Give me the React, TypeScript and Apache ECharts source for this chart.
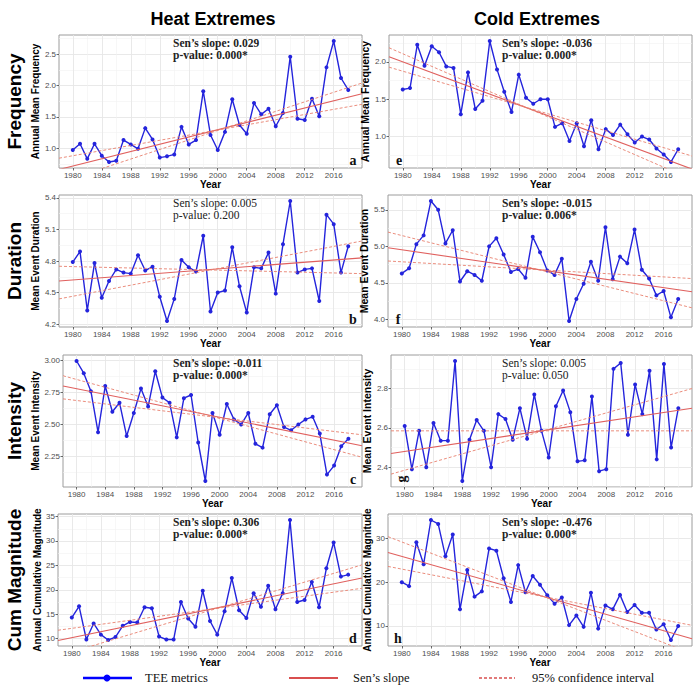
import React, { useEffect, useRef } from "react";
import * as echarts from "echarts";

// ---------- data ----------
const years = [
  1980, 1981, 1982, 1983, 1984, 1985, 1986, 1987, 1988, 1989,
  1990, 1991, 1992, 1993, 1994, 1995, 1996, 1997, 1998, 1999,
  2000, 2001, 2002, 2003, 2004, 2005, 2006, 2007, 2008, 2009,
  2010, 2011, 2012, 2013, 2014, 2015, 2016, 2017, 2018,
];
const xTickYears = [1980, 1984, 1988, 1992, 1996, 2000, 2004, 2008, 2012, 2016];
const xMinorYears = [1982, 1986, 1990, 1994, 1998, 2002, 2006, 2010, 2014, 2018];

const heatFrequency = [0.97, 1.07, 0.83, 1.07, 0.88, 0.78, 0.8, 1.13, 1.06, 0.99, 1.32, 1.14, 0.85, 0.87, 0.9, 1.34, 1.06, 1.13, 1.91, 1.21, 0.97, 1.26, 1.78, 1.37, 1.23, 1.72, 1.54, 1.63, 1.35, 1.56, 2.46, 1.47, 1.45, 1.79, 1.51, 2.29, 2.71, 2.12, 1.93];
const heatDuration = [4.79, 4.89, 4.33, 4.78, 4.45, 4.61, 4.72, 4.69, 4.68, 4.855, 4.71, 4.745, 4.46, 4.23, 4.44, 4.81, 4.74, 4.7, 5.04, 4.32, 4.5, 4.52, 4.93, 4.56, 4.31, 4.74, 4.73, 4.88, 4.49, 4.96, 5.37, 4.69, 4.72, 4.73, 4.42, 5.24, 5.15, 4.69, 4.94];
const heatIntensity = [2.995, 2.9, 2.76, 2.44, 2.8, 2.6, 2.67, 2.41, 2.59, 2.78, 2.64, 2.915, 2.71, 2.67, 2.4, 2.705, 2.73, 2.36, 2.06, 2.59, 2.42, 2.66, 2.54, 2.5, 2.59, 2.35, 2.32, 2.58, 2.65, 2.48, 2.455, 2.5, 2.54, 2.56, 2.43, 2.11, 2.18, 2.33, 2.39];
const heatMagnitude = [14.3, 16.6, 9.8, 13.1, 10.8, 9.7, 10.3, 12.6, 13.4, 13.3, 16.4, 16.2, 10.4, 9.8, 9.8, 17.5, 14.1, 12.4, 19.8, 13.6, 10.8, 15.6, 22.4, 15.8, 14.2, 19.3, 16.5, 20.8, 16.0, 19.3, 34.3, 17.5, 17.9, 21.6, 16.4, 24.4, 29.7, 22.7, 23.1];
const coldFrequency = [1.63, 1.65, 2.23, 1.95, 2.21, 2.13, 1.94, 1.92, 1.3, 1.86, 1.37, 1.48, 2.28, 1.9, 1.6, 1.33, 1.83, 1.52, 1.44, 1.5, 1.5, 1.13, 1.18, 0.94, 1.18, 0.87, 1.22, 0.83, 1.1, 1.02, 1.16, 1.03, 0.92, 1.0, 0.96, 0.84, 0.76, 0.66, 0.83];
const coldDuration = [4.63, 4.7, 5.03, 5.15, 5.62, 5.5, 5.04, 5.22, 4.52, 4.66, 4.61, 4.53, 5.0, 5.11, 4.89, 4.65, 4.69, 4.57, 5.13, 4.92, 4.67, 4.61, 4.83, 3.98, 4.28, 4.49, 4.79, 4.53, 5.26, 4.55, 4.86, 4.77, 5.23, 4.68, 4.56, 4.33, 4.39, 4.03, 4.28];
const coldIntensity = [2.61, 2.39, 2.585, 2.4, 2.625, 2.535, 2.535, 2.94, 2.33, 2.54, 2.64, 2.585, 2.4, 2.67, 2.645, 2.54, 2.7, 2.545, 2.77, 2.585, 2.45, 2.71, 2.79, 2.68, 2.43, 2.435, 2.76, 2.38, 2.39, 2.9, 2.93, 2.565, 2.82, 2.67, 2.89, 2.44, 2.925, 2.5, 2.7];
const coldMagnitude = [20.0, 19.1, 29.1, 24.1, 34.2, 33.3, 25.9, 30.9, 13.8, 22.8, 16.7, 17.9, 27.7, 27.2, 20.9, 15.5, 23.9, 17.7, 21.4, 19.4, 17.0, 15.1, 16.5, 10.2, 12.4, 9.8, 17.6, 9.4, 14.7, 13.8, 17.1, 13.2, 14.8, 13.0, 13.0, 9.2, 10.4, 6.8, 10.0];

// trend lines: value at the left and right edge of each panel
const heatFrequencySen = [0.66, 1.87];
const heatFrequencyCiA = [0.84, 1.7];
const heatFrequencyCiB = [0.45, 2.04];
const heatDurationSen = [4.61, 4.83];
const heatDurationCiA = [4.75, 4.68];
const heatDurationCiB = [4.44, 4.99];
const heatIntensitySen = [2.8, 2.335];
const heatIntensityCiA = [2.88, 2.245];
const heatIntensityCiB = [2.7, 2.42];
const heatMagnitudeSen = [9.6, 22.4];
const heatMagnitudeCiA = [11.7, 20.3];
const heatMagnitudeCiB = [6.4, 25.1];
const coldFrequencySen = [2.07, 0.565];
const coldFrequencyCiA = [2.19, 0.425];
const coldFrequencyCiB = [1.93, 0.74];
const coldDurationSen = [4.98, 4.38];
const coldDurationCiA = [5.195, 4.16];
const coldDurationCiB = [4.8, 4.56];
const coldIntensitySen = [2.47, 2.7];
const coldIntensityCiA = [2.585, 2.585];
const coldIntensityCiB = [2.365, 2.8];
const coldMagnitudeSen = [26.8, 7.1];
const coldMagnitudeCiA = [30.4, 3.7];
const coldMagnitudeCiB = [23.6, 10.15];

const heatFrequencyTicks = [1.0, 1.5, 2.0, 2.5];
const heatDurationTicks = [4.2, 4.5, 4.8, 5.1, 5.4];
const heatIntensityTicks = [2.25, 2.5, 2.75, 3.0];
const heatMagnitudeTicks = [10, 15, 20, 25, 30, 35];
const coldFrequencyTicks = [1.0, 1.5, 2.0];
const coldDurationTicks = [4.0, 4.5, 5.0, 5.5];
const coldIntensityTicks = [2.4, 2.6, 2.8];
const coldMagnitudeTicks = [10, 20, 30];

const heatSlopes = ["0.029", "0.005", "-0.011", "0.306"];
const heatPValues = ["0.000*", "0.200", "0.000*", "0.000*"];
const coldSlopes = ["-0.036", "-0.015", "0.005", "-0.476"];
const coldPValues = ["0.000*", "0.006*", "0.050", "0.000*"];

const metricNames = ["Frequency", "Duration", "Intensity", "Cum Magnitude"];
const yAxisNames = ["Annual Mean Frequency", "Mean Event Duration", "Mean Event Intensity", "Annual Cumulative Magnitude"];
const panelLetters = ["a", "b", "c", "d", "e", "f", "g", "h"];
const columnTitles = ["Heat Extremes", "Cold Extremes"];
const legendLabels = ["TEE metrics", "Sen\u2019s slope", "95% confidence interval"];

// ---------- styling / layout ----------
const BLUE = "#2424dc";
const RED = "#e0605e";
const CI_RED = "#e8806e";
const SANS = '"Liberation Sans", Arial, sans-serif';
const SERIF = '"Liberation Serif", "Times New Roman", serif';

const layouts = [
  { left: 59, top: 35, right: 362, bottom: 168, gap: 13, col: 0, nameSize: 10 },
  { left: 59, top: 195, right: 362, bottom: 327, gap: 14, col: 0, nameSize: 10 },
  { left: 63, top: 355, right: 362, bottom: 487, gap: 18, col: 0, nameSize: 10 },
  { left: 58, top: 514, right: 362, bottom: 646, gap: 10, col: 0, nameSize: 10 },
  { left: 389, top: 35, right: 692, bottom: 168, gap: 13, col: 1, nameSize: 10.5 },
  { left: 388, top: 195, right: 692, bottom: 327, gap: 12, col: 1, nameSize: 10.5 },
  { left: 391, top: 355, right: 692, bottom: 487, gap: 14, col: 1, nameSize: 10.5 },
  { left: 388, top: 514, right: 692, bottom: 646, gap: 12, col: 1, nameSize: 10 },
];

const panels = [
  { values: heatFrequency, ticks: heatFrequencyTicks, dec: 1, sen: heatFrequencySen, ciA: heatFrequencyCiA, ciB: heatFrequencyCiB, name: yAxisNames[0], slope: heatSlopes[0], p: heatPValues[0] },
  { values: heatDuration, ticks: heatDurationTicks, dec: 1, sen: heatDurationSen, ciA: heatDurationCiA, ciB: heatDurationCiB, name: yAxisNames[1], slope: heatSlopes[1], p: heatPValues[1] },
  { values: heatIntensity, ticks: heatIntensityTicks, dec: 2, sen: heatIntensitySen, ciA: heatIntensityCiA, ciB: heatIntensityCiB, name: yAxisNames[2], slope: heatSlopes[2], p: heatPValues[2] },
  { values: heatMagnitude, ticks: heatMagnitudeTicks, dec: 0, sen: heatMagnitudeSen, ciA: heatMagnitudeCiA, ciB: heatMagnitudeCiB, name: yAxisNames[3], slope: heatSlopes[3], p: heatPValues[3] },
  { values: coldFrequency, ticks: coldFrequencyTicks, dec: 1, sen: coldFrequencySen, ciA: coldFrequencyCiA, ciB: coldFrequencyCiB, name: yAxisNames[0], slope: coldSlopes[0], p: coldPValues[0] },
  { values: coldDuration, ticks: coldDurationTicks, dec: 1, sen: coldDurationSen, ciA: coldDurationCiA, ciB: coldDurationCiB, name: yAxisNames[1], slope: coldSlopes[1], p: coldPValues[1] },
  { values: coldIntensity, ticks: coldIntensityTicks, dec: 1, sen: coldIntensitySen, ciA: coldIntensityCiA, ciB: coldIntensityCiB, name: yAxisNames[2], slope: coldSlopes[2], p: coldPValues[2] },
  { values: coldMagnitude, ticks: coldMagnitudeTicks, dec: 0, sen: coldMagnitudeSen, ciA: coldMagnitudeCiA, ciB: coldMagnitudeCiB, name: yAxisNames[3], slope: coldSlopes[3], p: coldPValues[3] },
];

const XMIN = years[0] - 0.05 * (years[years.length - 1] - years[0]);
const XMAX = years[years.length - 1] + 0.05 * (years[years.length - 1] - years[0]);

function buildOption() {
  const grid: any[] = [];
  const xAxis: any[] = [];
  const yAxis: any[] = [];
  const series: any[] = [];
  const graphic: any[] = [];

  panels.forEach((p, i) => {
    const L = layouts[i];
    const dmin = Math.min(...p.values);
    const dmax = Math.max(...p.values);
    const ymin = dmin - 0.05 * (dmax - dmin);
    const ymax = dmax + 0.05 * (dmax - dmin);
    const step = p.ticks[1] - p.ticks[0];
    const minorY = [p.ticks[0] - step / 2, ...p.ticks.map((t) => t + step / 2)].filter((v) => v > ymin && v < ymax);

    grid.push({
      left: L.left, top: L.top, width: L.right - L.left, height: L.bottom - L.top,
      show: true, borderColor: "#9c9c9c", borderWidth: 1, backgroundColor: "#ffffff",
      containLabel: false, outerBoundsMode: "none",
    });

    xAxis.push({
      type: "value", gridIndex: i, min: XMIN, max: XMAX, position: "bottom",
      name: "Year", nameLocation: "middle", nameGap: 11,
      nameTextStyle: { fontFamily: SANS, fontWeight: "bold", fontSize: 10, color: "#000" },
      axisLine: { show: false },
      axisTick: { show: true, length: 2.5, customValues: xTickYears, lineStyle: { color: "#444", width: 0.8 } },
      axisLabel: { customValues: xTickYears, formatter: (v: number) => String(v), fontFamily: SANS, fontSize: 8, color: "#4d4d4d", margin: 3 },
      splitLine: { show: true, lineStyle: { color: "#e6e6e6", width: 0.9 } },
    });
    xAxis.push({
      type: "value", gridIndex: i, min: XMIN, max: XMAX, position: "top",
      axisLine: { show: false },
      axisTick: { show: false, customValues: xMinorYears },
      axisLabel: { show: false, customValues: xMinorYears },
      splitLine: { show: true, lineStyle: { color: "#f2f2f2", width: 0.6 } },
    });

    yAxis.push({
      type: "value", gridIndex: i, min: ymin, max: ymax, position: "left",
      name: p.name, nameLocation: "middle", nameGap: L.gap,
      nameTextStyle: { fontFamily: SANS, fontWeight: "bold", fontSize: L.nameSize, color: "#000" },
      axisLine: { show: false },
      axisTick: { show: true, length: 2.5, customValues: p.ticks, lineStyle: { color: "#444", width: 0.8 } },
      axisLabel: { customValues: p.ticks, formatter: (v: number) => v.toFixed(p.dec), fontFamily: SANS, fontSize: 8, color: "#4d4d4d", margin: 3 },
      splitLine: { show: true, lineStyle: { color: "#e6e6e6", width: 0.9 } },
    });
    yAxis.push({
      type: "value", gridIndex: i, min: ymin, max: ymax, position: "right",
      axisLine: { show: false },
      axisTick: { show: false, customValues: minorY },
      axisLabel: { show: false, customValues: minorY },
      splitLine: { show: true, lineStyle: { color: "#f2f2f2", width: 0.6 } },
    });

    const xi = 2 * i;
    const trend = (vals: number[], color: string, dashed: boolean) => ({
      type: "line", xAxisIndex: xi, yAxisIndex: xi, silent: true, clip: true, z: 3,
      symbol: "none", data: [[XMIN, vals[0]], [XMAX, vals[1]]],
      lineStyle: { color, width: dashed ? 0.9 : 1.1, type: dashed ? [3, 2] : "solid" },
    });
    series.push({
      type: "line", xAxisIndex: xi, yAxisIndex: xi, silent: true, z: 2,
      data: years.map((y, k) => [y, p.values[k]]),
      symbol: "circle", symbolSize: 4, showSymbol: true,
      itemStyle: { color: BLUE },
      lineStyle: { color: BLUE, width: 1.4 },
    });
    series.push(trend(p.sen, RED, false));
    series.push(trend(p.ciA, CI_RED, true));
    series.push(trend(p.ciB, CI_RED, true));

    // annotation
    const sig = p.p.endsWith("*");
    const tx = L.col === 0 ? 173 : 502;
    const font = `${sig ? "bold " : ""}11.5px ${SERIF}`;
    graphic.push({ type: "text", x: tx, y: L.top + 7.5, z: 10, style: { text: `Sen\u2019s slope: ${p.slope}`, font, lineHeight: 12, fill: "#222", align: "left", verticalAlign: "middle" } });
    graphic.push({ type: "text", x: tx, y: L.top + 20, z: 10, style: { text: `p-value: ${p.p}`, font, lineHeight: 12, fill: "#222", align: "left", verticalAlign: "middle" } });

    // panel letter
    const lx = L.col === 0 ? L.right - 9 : L.left + 10;
    graphic.push({
      type: "text", x: lx, y: L.bottom - 8, z: 10, rotation: i === 6 ? Math.PI / 2 : 0,
      style: { text: panelLetters[i], font: `bold 14px ${SERIF}`, fill: "#111", align: "center", verticalAlign: "middle" },
    });
  });

  // column titles
  graphic.push({ type: "text", x: 213, y: 19, style: { text: columnTitles[0], font: `bold 18px ${SANS}`, fill: "#000", align: "center", verticalAlign: "middle" } });
  graphic.push({ type: "text", x: 537, y: 19, style: { text: columnTitles[1], font: `bold 18px ${SANS}`, fill: "#000", align: "center", verticalAlign: "middle" } });

  // row labels
  metricNames.forEach((m, r) => {
    const L = layouts[r];
    graphic.push({
      type: "text", x: 14, y: (L.top + L.bottom) / 2, rotation: Math.PI / 2,
      style: { text: m, font: `bold 19px ${SANS}`, fill: "#000", align: "center", verticalAlign: "middle" },
    });
  });

  // legend
  const ly = 678;
  const lfont = `12.5px ${SERIF}`;
  graphic.push({ type: "line", shape: { x1: 83, y1: ly, x2: 132, y2: ly }, style: { stroke: "#0000ff", lineWidth: 2.5 } });
  graphic.push({ type: "circle", shape: { cx: 107, cy: ly, r: 3.5 }, style: { fill: "#0000ff" } });
  graphic.push({ type: "text", x: 145, y: ly, style: { text: legendLabels[0], font: lfont, lineHeight: 13, fill: "#111", align: "left", verticalAlign: "middle" } });
  graphic.push({ type: "line", shape: { x1: 289, y1: ly, x2: 338, y2: ly }, style: { stroke: "#d94f4f", lineWidth: 2 } });
  graphic.push({ type: "text", x: 353, y: ly, style: { text: legendLabels[1], font: lfont, lineHeight: 13, fill: "#111", align: "left", verticalAlign: "middle" } });
  graphic.push({ type: "line", shape: { x1: 479, y1: ly, x2: 515, y2: ly }, style: { stroke: "#d94f4f", lineWidth: 1.6, lineDash: [3, 2] } });
  graphic.push({ type: "text", x: 532, y: ly, style: { text: legendLabels[2], font: lfont, lineHeight: 13, fill: "#111", align: "left", verticalAlign: "middle" } });

  return {
    animation: false,
    backgroundColor: "#ffffff",
    grid, xAxis, yAxis, series, graphic,
  };
}

export default function App() {
  const ref = useRef<HTMLDivElement>(null);
  useEffect(() => {
    if (!ref.current) return;
    const chart = echarts.init(ref.current, null, { renderer: "svg" });
    chart.setOption(buildOption() as any);
    return () => chart.dispose();
  }, []);
  return <div ref={ref} style={{ position: "fixed", left: 0, top: 0, width: 698, height: 687, background: "#fff" }} />;
}
